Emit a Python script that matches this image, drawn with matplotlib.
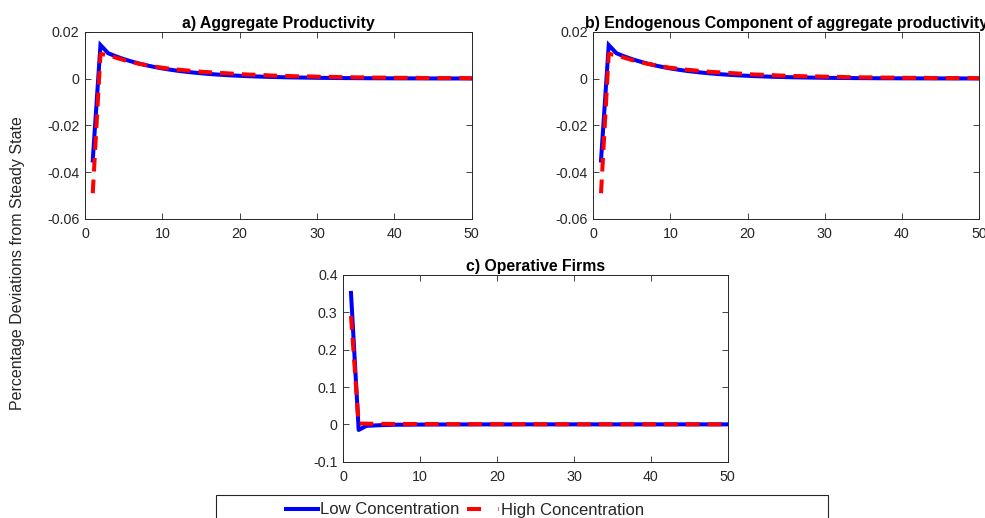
import matplotlib
matplotlib.use("Agg")
import matplotlib.pyplot as plt
from matplotlib.patches import Rectangle
from matplotlib.lines import Line2D
from matplotlib import font_manager

plt.rcParams['font.family'] = ['Liberation Sans', 'DejaVu Sans']

periods = list(range(1, 51))

# a) Aggregate Productivity
agg_low = [-0.035, 0.0143, 0.0108, 0.00947, 0.00831, 0.00729, 0.00639, 0.00560, 0.00491, 0.00431,
           0.00378, 0.00331, 0.00291, 0.00255, 0.00224, 0.00196, 0.00172, 0.00151, 0.00132, 0.00116,
           0.00102, 0.00089, 0.00078, 0.00069, 0.00060, 0.00053, 0.00046, 0.00041, 0.00036, 0.00031,
           0.00027, 0.00024, 0.00021, 0.00018, 0.00016, 0.00014, 0.00012, 0.00011, 0.00010, 0.00008,
           0.00007, 0.00006, 0.00006, 0.00005, 0.00004, 0.00004, 0.00003, 0.00003, 0.00003, 0.00002]
agg_high = [-0.049, 0.0105, 0.0100, 0.0089, 0.0079, 0.0071, 0.0063, 0.0057, 0.0051, 0.0046,
            0.0042, 0.0038, 0.0035, 0.0032, 0.0029, 0.0027, 0.0025, 0.0023, 0.0021, 0.0019,
            0.0017, 0.0016, 0.0015, 0.0013, 0.0012, 0.0011, 0.0010, 0.0009, 0.0009, 0.0008,
            0.0007, 0.0007, 0.0006, 0.0006, 0.0005, 0.0005, 0.0004, 0.0004, 0.0004, 0.0003,
            0.0003, 0.0003, 0.0003, 0.0002, 0.0002, 0.0002, 0.0002, 0.0002, 0.0002, 0.0001]

# b) Endogenous component
endo_low = [-0.035, 0.0143, 0.0108, 0.00947, 0.00831, 0.00729, 0.00639, 0.00560, 0.00491, 0.00431,
            0.00378, 0.00331, 0.00291, 0.00255, 0.00224, 0.00196, 0.00172, 0.00151, 0.00132, 0.00116,
            0.00102, 0.00089, 0.00078, 0.00069, 0.00060, 0.00053, 0.00046, 0.00041, 0.00036, 0.00031,
            0.00027, 0.00024, 0.00021, 0.00018, 0.00016, 0.00014, 0.00012, 0.00011, 0.00010, 0.00008,
            0.00007, 0.00006, 0.00006, 0.00005, 0.00004, 0.00004, 0.00003, 0.00003, 0.00003, 0.00002]
endo_high = [-0.049, 0.0105, 0.0100, 0.0089, 0.0079, 0.0071, 0.0063, 0.0057, 0.0051, 0.0046,
             0.0042, 0.0038, 0.0035, 0.0032, 0.0029, 0.0027, 0.0025, 0.0023, 0.0021, 0.0019,
             0.0017, 0.0016, 0.0015, 0.0013, 0.0012, 0.0011, 0.0010, 0.0009, 0.0009, 0.0008,
             0.0007, 0.0007, 0.0006, 0.0006, 0.0005, 0.0005, 0.0004, 0.0004, 0.0004, 0.0003,
             0.0003, 0.0003, 0.0003, 0.0002, 0.0002, 0.0002, 0.0002, 0.0002, 0.0002, 0.0001]

# c) Operative firms
firms_low = [0.352, -0.015, -0.004, -0.003, -0.002, -0.0015, -0.001, -0.001, -0.0008, -0.0006,
             -0.0005, -0.0004, -0.0003, -0.0003, -0.0002, -0.0002, -0.0002, -0.0001, -0.0001, -0.0001,
             -0.0001, -0.0001, 0, 0, 0, 0, 0, 0, 0, 0,
             0, 0, 0, 0, 0, 0, 0, 0, 0, 0,
             0, 0, 0, 0, 0, 0, 0, 0, 0, 0]
firms_high = [0.29, 0.002, 0.002, 0.0015, 0.0015, 0.0012, 0.001, 0.001, 0.001, 0.0009,
              0.0009, 0.0008, 0.0008, 0.0007, 0.0007, 0.0006, 0.0006, 0.0006, 0.0005, 0.0005,
              0.0005, 0.0004, 0.0004, 0.0004, 0.0004, 0.0003, 0.0003, 0.0003, 0.0003, 0.0003,
              0.0002, 0.0002, 0.0002, 0.0002, 0.0002, 0.0002, 0.0002, 0.0001, 0.0001, 0.0001,
              0.0001, 0.0001, 0.0001, 0.0001, 0.0001, 0.0001, 0.0001, 0.0001, 0.0001, 0.0001]

titles = ["a) Aggregate Productivity",
          "b) Endogenous Component of aggregate productivity",
          "c) Operative Firms"]
yticks_ab = [-0.06, -0.04, -0.02, 0, 0.02]
yticklabels_ab = ["-0.06", "-0.04", "-0.02", "0", "0.02"]
yticks_c = [-0.1, 0, 0.1, 0.2, 0.3, 0.4]
yticklabels_c = ["-0.1", "0", "0.1", "0.2", "0.3", "0.4"]
xticks = [0, 10, 20, 30, 40, 50]
legend_labels = ["Low Concentration", "High Concentration"]
ylabel = "Percentage Deviations from Steady State"

W, H = 985, 518
fig = plt.figure(figsize=(W / 100, H / 100), dpi=100)

def px_axes(left, top, right, bottom):
    return fig.add_axes([left / W, 1 - bottom / H, (right - left) / W, (bottom - top) / H])

ax_a = px_axes(85, 31.7, 471.7, 219)
ax_b = px_axes(593.3, 31.7, 979, 219)
ax_c = px_axes(343.3, 275, 727.7, 461.7)

gray = '#262626'
dash = (0, (3.4, 2.0))
lw = 2.9

def style(ax, title, yt, ytl, ylim):
    ax.set_xlim(0, 50)
    ax.set_ylim(*ylim)
    ax.set_xticks(xticks)
    ax.set_xticklabels([str(v) for v in xticks])
    ax.set_yticks(yt)
    ax.set_yticklabels(ytl)
    ax.tick_params(direction='in', length=4, width=0.6, top=True, right=True,
                   labelsize=10.3, colors=gray, labelcolor=gray, pad=4)
    ax.tick_params(axis='x', pad=6)
    for s in ax.spines.values():
        s.set_color(gray)
        s.set_linewidth(0.7)
    ax.set_title(title, fontsize=11.4, fontweight='bold', pad=3, color='black')

for ax, lo, hi, t in [(ax_a, agg_low, agg_high, titles[0]), (ax_b, endo_low, endo_high, titles[1])]:
    ax.plot(periods, lo, color='blue', lw=lw, solid_joinstyle='miter')
    ax.plot(periods, hi, color='red', lw=lw, linestyle=dash)
    style(ax, t, yticks_ab, yticklabels_ab, (-0.06, 0.02))

ax_c.plot(periods, firms_low, color='blue', lw=lw)
ax_c.plot(periods, firms_high, color='red', lw=lw, linestyle=dash)
style(ax_c, titles[2], yticks_c, yticklabels_c, (-0.1, 0.4))

fig.text(18 / W, 1 - 263 / H, ylabel, rotation=90, ha='center', va='center',
         fontsize=11.5, color=gray)

# legend font: narrow if available
try:
    font_manager.findfont(font_manager.FontProperties(family='Liberation Sans Narrow'),
                          fallback_to_default=False)
    leg_family = ['Liberation Sans Narrow', 'DejaVu Sans']
    leg_size = 14.7
except Exception:
    leg_family = ['Liberation Sans', 'DejaVu Sans']
    leg_size = 12

rect = Rectangle((216 / W, 1 - 530 / H), (828 - 216) / W, 35 / H, transform=fig.transFigure,
                 fill=False, edgecolor=gray, linewidth=0.8, clip_on=False)
fig.add_artist(rect)
handles = [Line2D([], [], color='blue', lw=lw),
           Line2D([], [], color='red', lw=lw, linestyle=(0, (3.5, 4.3)))]
leg = fig.legend(handles, legend_labels, loc='center', bbox_to_anchor=(465 / W, 1 - 510 / H),
                 ncol=2, frameon=False, prop={'family': leg_family, 'size': leg_size},
                 handlelength=1.9, handletextpad=0.15, columnspacing=0.45, borderpad=0,
                 labelcolor=gray)

fig.savefig("out.png", dpi=100)
